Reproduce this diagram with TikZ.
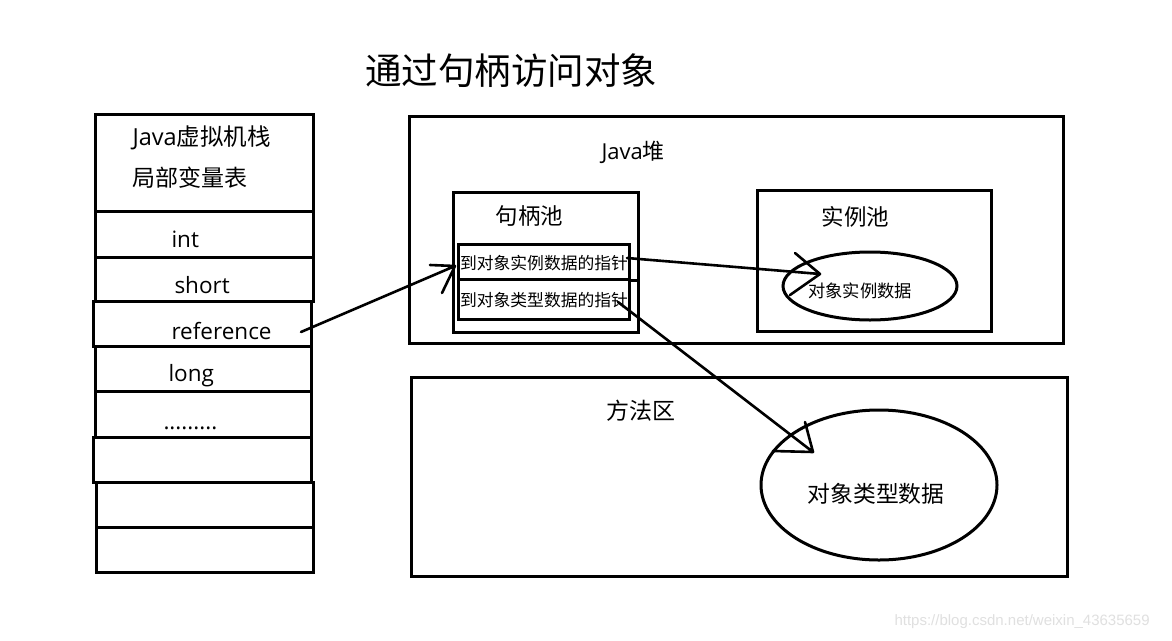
\documentclass[tikz,border=0pt]{standalone}
\usepackage{fontspec}
\setmainfont{Open Sans}
\newfontfamily\cjk{Noto Sans CJK SC}
\newfontfamily\wm{Liberation Sans}
\usetikzlibrary{fit,shapes.geometric}
\begin{document}
\begin{tikzpicture}[x=1pt,y=-1pt,line width=3pt,
  bx/.style={draw,inner sep=0pt,line width=3pt},
  txt/.style={inner sep=0pt},
  ln/.style={line width=2.6pt,line cap=round,line join=round}]
\useasboundingbox[fill=white] (0,0) rectangle (1172,640);
% title
\node[txt,font=\cjk\fontsize{36.5}{40}\selectfont] (title) at (511,71) {通过句柄访问对象};
% stack
\node[bx,fit={(95,114)(313,211)}] (stk0) {};
\node[bx,fit={(95,211)(313,257)}] (stk1) {};
\node[bx,fit={(95,257)(313,301)}] (stk2) {};
\node[bx,fit={(93,301)(311,346)}] (stk3) {};
\node[bx,fit={(95,346)(311,391)}] (stk4) {};
\node[bx,fit={(95,391)(311,437)}] (stk5) {};
\node[bx,fit={(93,437)(311,482)}] (stk6) {};
\node[bx,fit={(96,482)(313,527)}] (stk7) {};
\node[bx,fit={(96,527)(313,572)}] (stk8) {};
\node[txt,anchor=west,font=\fontsize{23.5}{26}\selectfont] (jvm) at (131,138) {Java{\cjk 虚拟机栈}};
\node[txt,anchor=west,font=\cjk\fontsize{23}{26}\selectfont] (lvt) at (131,178) {局部变量表};
\node[txt,anchor=base west,font=\fontsize{22.5}{26}\selectfont] (tint) at (170,247) {int};
\node[txt,anchor=base west,font=\fontsize{22.5}{26}\selectfont] (tshort) at (173,293) {short};
\node[txt,anchor=base west,font=\fontsize{22.5}{26}\selectfont] (tref) at (170,339) {reference};
\node[txt,anchor=base west,font=\fontsize{22.5}{26}\selectfont] (tlong) at (167,381) {long};
\node[txt,anchor=base west,font=\fontsize{22.5}{26}\selectfont] (tdots) at (162,429) {.........};
% heap
\node[bx,fit={(409,116)(1063,343)}] (heap) {};
\node[txt,anchor=west,font=\fontsize{22}{24}\selectfont] (theap) at (600,152) {Java{\cjk 堆}};
\node[bx,fit={(453,192)(638,332)}] (hpool) {};
\node[txt,anchor=west,font=\cjk\fontsize{22.5}{26}\selectfont] (thpool) at (494,216) {句柄池};
\node[bx,fit={(458,244)(629,279)}] (ptr1) {};
\node[bx,fit={(458,279)(629,319)}] (ptr2) {};
\draw[line width=3pt] (ptr1.south east) -- ++(7,0);
\node[txt,font=\cjk\fontsize{16.8}{20}\selectfont] (tptr1) at (544,263) {到对象实例数据的指针};
\node[txt,font=\cjk\fontsize{16.8}{20}\selectfont] (tptr2) at (544,300) {到对象类型数据的指针};
\node[bx,fit={(757,190)(991,331)}] (ipool) {};
\node[txt,anchor=west,font=\cjk\fontsize{22.5}{26}\selectfont] (tipool) at (820,217) {实例池};
\node[draw,ellipse,inner sep=0pt,minimum width=174,minimum height=68] (inst) at (870,286) {};
\node[txt,font=\cjk\fontsize{17.3}{20}\selectfont] (tinst) at (860,291) {对象实例数据};
% method area
\node[bx,fit={(411,377)(1067,576)}] (marea) {};
\node[txt,anchor=west,font=\cjk\fontsize{23}{26}\selectfont] (tmarea) at (605,411) {方法区};
\node[draw,ellipse,inner sep=0pt,minimum width=236,minimum height=150] (type) at (879,485) {};
\node[txt,font=\cjk\fontsize{22.8}{26}\selectfont] (ttype) at (876,494) {对象类型数据};
% arrows
\coordinate (a1s) at (301,332);
\coordinate (a1t) at (455,266);
\coordinate (a1b1) at (430,265);
\coordinate (a1b2) at (442,293);
\draw[ln] (a1s) -- (a1t) (a1b1) -- (a1t) -- (a1b2);
\coordinate (a2s) at (627,258);
\coordinate (a2t) at (820,274);
\coordinate (a2b1) at (795,253);
\coordinate (a2b2) at (790,295);
\draw[ln] (a2s) -- (a2t) (a2b1) -- (a2t) -- (a2b2);
\coordinate (a3s) at (618,302);
\coordinate (a3t) at (813,452);
\coordinate (a3b1) at (805,422);
\coordinate (a3b2) at (773,451);
\draw[ln] (a3s) -- (a3t) (a3b1) -- (a3t) -- (a3b2);
% watermark
\node[txt,anchor=west,text=black!12,font=\wm\fontsize{15}{18}\selectfont] (wmk) at (893,622) {https://blog.csdn.net/weixin\_43635659};
\end{tikzpicture}
\end{document}
